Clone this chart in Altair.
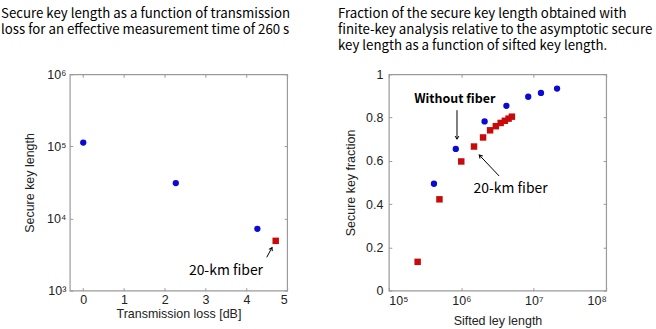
import altair as alt
import pandas as pd

# ---------------- data ----------------
# Left panel: secure key length vs transmission loss
loss_nofiber_db = [0.0, 2.27, 4.27]
key_nofiber = [1.13e5, 3.1e4, 7.2e3]
loss_fiber_db = [4.72]
key_fiber = [4.9e3]

# Right panel: secure key fraction vs sifted key length
sift_nofiber = [4.2e5, 8.4e5, 2.1e6, 4.2e6, 8.4e6, 1.26e7, 2.1e7]
frac_nofiber = [0.494, 0.655, 0.782, 0.854, 0.896, 0.914, 0.934]
sift_fiber = [2.5e5, 5.0e5, 1.0e6, 1.5e6, 2.0e6, 2.5e6, 3.0e6, 3.5e6, 4.0e6, 4.5e6, 5.0e6]
frac_fiber = [0.133, 0.422, 0.597, 0.666, 0.708, 0.741, 0.760, 0.775, 0.785, 0.795, 0.804]

left_title = ["Secure key length as a function of transmission",
              "loss for an effective measurement time of 260 s"]
right_title = ["Fraction of the secure key length obtained with",
               "finite-key analysis  relative to the asymptotic secure",
               "key length as a function of sifted key length."]

# annotations (data coordinates)
left_label = {"x": 3.50, "y": 1.85e3, "text": "20-km fiber"}
left_arrow = {"x": 4.50, "y": 2.9e3, "x2": 4.63, "y2": 3.96e3, "angle": 27}
right_label_bold = {"x": 8.15e5, "y": 0.886, "text": "Without fiber"}
right_label = {"x": 4.8e6, "y": 0.470, "text": "20-km fiber"}
right_arrows = pd.DataFrame({"x": [8.73e5, 3.33e6], "y": [0.834, 0.530],
                             "x2": [8.73e5, 1.77e6], "y2": [0.700, 0.627],
                             "angle": [180, 316]})

BLUE = "#0a0ad2"
RED = "#c80a0a"
FRAME = "#9a9a9a"
AXFONT = "Liberation Sans"
TFONT = "Noto Sans CJK JP"
SUP = "['\u2070','\u00b9','\u00b2','\u00b3','\u2074','\u2075','\u2076','\u2077','\u2078','\u2079']"
POW_EXPR = "'10' + " + SUP + "[round(log(datum.value)/LN10)]"
ARROWHEAD = "M-0.45,0.75 L0,0 L0.45,0.75"

W, H = 218, 217


def tick_axis(orient, values):
    return alt.Axis(orient=orient, values=values, labels=False, domain=False,
                    ticks=True, tickSize=3, offset=-3, tickColor=FRAME,
                    tickWidth=1, title=None, grid=False)


def label_axis(orient, values, title, titleX=None, titleY=None, labelExpr=None,
               labelPadding=4):
    kw = dict(orient=orient, values=values, domain=False, ticks=False, tickSize=0,
              grid=False, title=title, labelFont=AXFONT, labelFontSize=12.5,
              labelColor="#222", titleFont=AXFONT, titleFontSize=12.5,
              titleFontWeight="normal", titleColor="#222",
              labelPadding=labelPadding)
    if titleX is not None:
        kw["titleX"] = titleX
    if titleY is not None:
        kw["titleY"] = titleY
    if labelExpr is not None:
        kw["labelExpr"] = labelExpr
    if orient in ("left", "right"):
        kw["titleAngle"] = -90
        kw["titleBaseline"] = "middle"
        kw["titleAnchor"] = "middle"
    else:
        kw["titleBaseline"] = "alphabetic"
    return alt.Axis(**kw)


# ---------------- left panel ----------------
lx_scale = alt.Scale(domain=[-0.33, 5], nice=False, zero=False)
ly_scale = alt.Scale(type="log", domain=[1e3, 1e6], nice=False)
lx_vals = [0, 1, 2, 3, 4, 5]
ly_vals = [1e3, 1e4, 1e5, 1e6]

ldf_blue = pd.DataFrame({"x": loss_nofiber_db, "y": key_nofiber})
ldf_red = pd.DataFrame({"x": loss_fiber_db, "y": key_fiber})

l_blue = alt.Chart(ldf_blue).mark_circle(color=BLUE, opacity=1, size=40).encode(
    x=alt.X("x:Q", scale=lx_scale,
            axis=label_axis("bottom", lx_vals, "Transmission loss [dB]", titleY=27,
                            labelPadding=3)),
    y=alt.Y("y:Q", scale=ly_scale,
            axis=label_axis("left", ly_vals, "Secure key length", titleX=-40,
                            labelExpr=POW_EXPR, labelPadding=4)),
)
l_red = alt.Chart(ldf_red).mark_square(color=RED, opacity=1, filled=True, size=42).encode(
    x=alt.X("x:Q", scale=lx_scale, axis=tick_axis("top", lx_vals)),
    y=alt.Y("y:Q", scale=ly_scale, axis=tick_axis("right", ly_vals)),
)
l_text = alt.Chart(pd.DataFrame([left_label])).mark_text(
    font=TFONT, fontSize=14, color="#000", align="center", baseline="middle"
).encode(
    x=alt.X("x:Q", scale=lx_scale, axis=tick_axis("bottom", lx_vals)),
    y=alt.Y("y:Q", scale=ly_scale, axis=tick_axis("left", ly_vals)),
    text="text:N",
)
l_arrow = alt.Chart(pd.DataFrame([left_arrow])).mark_rule(color="#000", strokeWidth=1).encode(
    x=alt.X("x:Q", scale=lx_scale, axis=None),
    y=alt.Y("y:Q", scale=ly_scale, axis=None),
    x2="x2:Q", y2="y2:Q",
)
l_head = alt.Chart(pd.DataFrame([left_arrow])).mark_point(
    shape=ARROWHEAD, filled=False, color="#000", strokeWidth=1, size=70, opacity=1
).encode(
    x=alt.X("x2:Q", scale=lx_scale, axis=None),
    y=alt.Y("y2:Q", scale=ly_scale, axis=None),
    angle=alt.Angle("angle:Q", scale=None),
)

left = alt.layer(l_blue, l_red, l_text, l_arrow, l_head).resolve_axis(
    x="independent", y="independent"
).properties(
    width=W, height=H,
    title=alt.TitleParams(left_title, anchor="start", frame="group", dx=-69,
                          font=TFONT, fontSize=13.3, fontWeight="normal",
                          color="#000", lineHeight=16, baseline="bottom",
                          offset=18),
)

# ---------------- right panel ----------------
rx_scale = alt.Scale(type="log", domain=[1e5, 1e8], nice=False)
ry_scale = alt.Scale(domain=[0, 1], nice=False, zero=False)
rx_vals = [1e5, 1e6, 1e7, 1e8]
ry_vals = [0, 0.2, 0.4, 0.6, 0.8, 1]

rdf_blue = pd.DataFrame({"x": sift_nofiber, "y": frac_nofiber})
rdf_red = pd.DataFrame({"x": sift_fiber, "y": frac_fiber})

r_blue = alt.Chart(rdf_blue).mark_circle(color=BLUE, opacity=1, size=40).encode(
    x=alt.X("x:Q", scale=rx_scale,
            axis=label_axis("bottom", rx_vals, "Sifted ley length", titleY=34,
                            labelExpr=POW_EXPR, labelPadding=4)),
    y=alt.Y("y:Q", scale=ry_scale,
            axis=label_axis("left", ry_vals, "Secure key fraction", titleX=-38,
                            labelPadding=6,
                            labelExpr="datum.value == 0 || datum.value == 1 ? format(datum.value, 'd') : format(datum.value, '.1f')")),
)
r_red = alt.Chart(rdf_red).mark_square(color=RED, opacity=1, filled=True, size=42).encode(
    x=alt.X("x:Q", scale=rx_scale, axis=tick_axis("top", rx_vals)),
    y=alt.Y("y:Q", scale=ry_scale, axis=tick_axis("right", ry_vals)),
)
r_text = alt.Chart(pd.DataFrame([right_label])).mark_text(
    font=TFONT, fontSize=14, color="#000", align="center", baseline="middle"
).encode(
    x=alt.X("x:Q", scale=rx_scale, axis=tick_axis("bottom", rx_vals)),
    y=alt.Y("y:Q", scale=ry_scale, axis=tick_axis("left", ry_vals)),
    text="text:N",
)
r_text_b = alt.Chart(pd.DataFrame([right_label_bold])).mark_text(
    font=TFONT, fontSize=12.5, fontWeight="bold", color="#000", align="center",
    baseline="middle"
).encode(
    x=alt.X("x:Q", scale=rx_scale, axis=None),
    y=alt.Y("y:Q", scale=ry_scale, axis=None),
    text="text:N",
)
r_arrow = alt.Chart(right_arrows).mark_rule(color="#000", strokeWidth=1).encode(
    x=alt.X("x:Q", scale=rx_scale, axis=None),
    y=alt.Y("y:Q", scale=ry_scale, axis=None),
    x2="x2:Q", y2="y2:Q",
)
r_head = alt.Chart(right_arrows).mark_point(
    shape=ARROWHEAD, filled=False, color="#000", strokeWidth=1, size=70, opacity=1
).encode(
    x=alt.X("x2:Q", scale=rx_scale, axis=None),
    y=alt.Y("y2:Q", scale=ry_scale, axis=None),
    angle=alt.Angle("angle:Q", scale=None),
)

right = alt.layer(r_blue, r_red, r_text, r_text_b, r_arrow, r_head).resolve_axis(
    x="independent", y="independent"
).properties(
    width=W, height=H,
    title=alt.TitleParams(right_title, anchor="start", frame="group", dx=-51,
                          font=TFONT, fontSize=13.3, fontWeight="normal",
                          color="#000", lineHeight=16, baseline="bottom",
                          offset=2),
)

chart = alt.hconcat(left, right, spacing=102, bounds="flush").properties(
    padding={"left": 0, "top": 6, "right": 0, "bottom": 0},
    background="white",
).configure_view(stroke=FRAME, strokeWidth=1.2)

chart.save("out.html", embed_options={"renderer": "svg", "actions": False})
